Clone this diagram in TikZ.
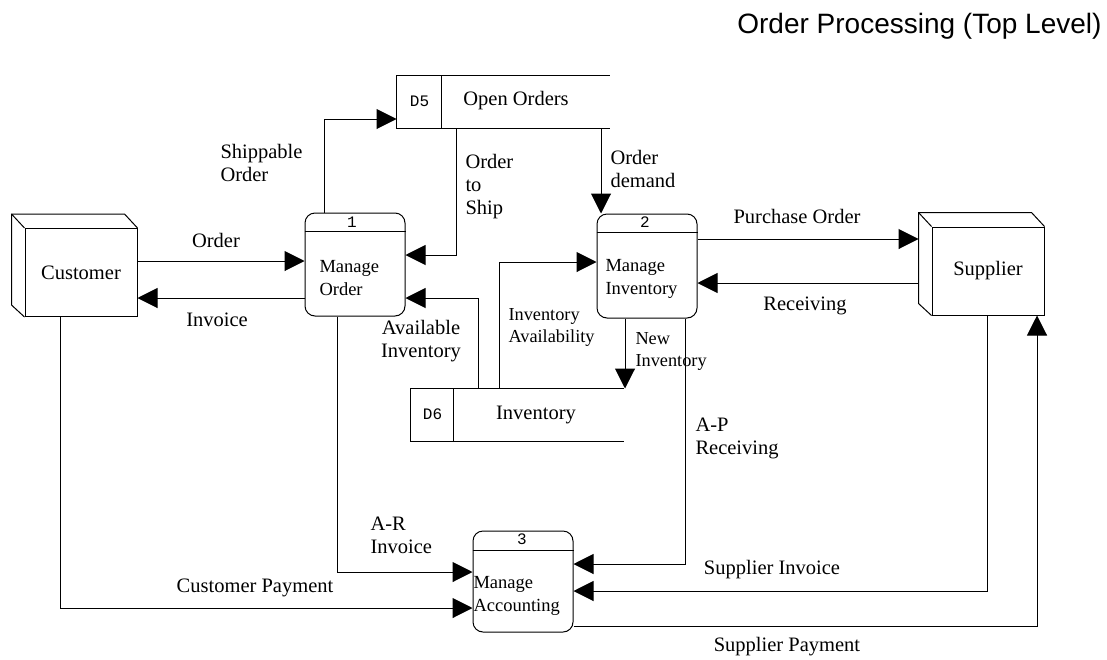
\documentclass[tikz,border=0pt]{standalone}
\usepackage{fontspec}
\setmainfont{Liberation Serif}
\setsansfont{Liberation Sans}
\setmonofont{Liberation Mono}
\usetikzlibrary{arrows.meta}
\begin{document}
\begin{tikzpicture}[x=1pt,y=-1pt,
  every path/.style={line width=1pt},
  lbl/.style={inner sep=0pt,align=left,font=\fontsize{20.5}{23}\selectfont},
  slbl/.style={inner sep=0pt,align=left,font=\fontsize{18.3}{22}\selectfont},
  plbl/.style={inner sep=0pt,align=left,font=\fontsize{18.5}{22.5}\selectfont},
  num/.style={inner sep=0pt,font=\ttfamily\fontsize{16}{18}\selectfont},
  flow/.style={draw,-{Triangle[length=20pt,width=20pt]}},
  proc/.style={draw,rounded corners=10pt,minimum width=100pt,inner sep=0pt},
  ent/.style={draw,minimum width=112pt,minimum height=88pt,inner sep=0pt,font=\fontsize{20.5}{23}\selectfont},
  store/.style={minimum width=212pt,minimum height=52pt,inner sep=0pt}]
\path[use as bounding box] (0,0) rectangle (1107,659);

% title
\node[anchor=base east,inner sep=0pt,font=\sffamily\fontsize{28}{32}\selectfont] (title) at (1102,33) {Order Processing (Top Level)};

% external entities
\node[ent] (cust) at (81,272.5) {Customer};
\draw (cust.south west) -- ++(-13,-12) -- ([xshift=-13pt,yshift=14pt]cust.north west) -- ([xshift=-13pt,yshift=14pt]cust.north east) -- (cust.north east);
\draw (cust.north west) -- ++(-13,-14);
\node[ent] (sup) at (988,271) {Supplier};
\draw (sup.south west) -- ++(-13,-12) -- ([xshift=-13pt,yshift=14pt]sup.north west) -- ([xshift=-13pt,yshift=14pt]sup.north east) -- (sup.north east);
\draw (sup.north west) -- ++(-13,-14);
\coordinate (supL) at ([xshift=-13pt]sup.west);

% processes
\node[proc,minimum height=103pt] (mo) at (355,264.5) {};
\draw ([yshift=-19pt]mo.north west) -- ([yshift=-19pt]mo.north east);
\node[num] (mon) at (352,222) {1};
\node[plbl,anchor=west] (mot) at (319,278) {Manage\\Order};

\node[proc,minimum height=104pt] (mi) at (647,266) {};
\draw ([yshift=-19pt]mi.north west) -- ([yshift=-19pt]mi.north east);
\node[num] (min) at (645,222) {2};
\node[plbl,anchor=west] (mit) at (605,279) {Manage\\Inventory};

\node[proc,minimum height=101pt] (ma) at (523,581.5) {};
\draw ([yshift=-20pt]ma.north west) -- ([yshift=-20pt]ma.north east);
\node[num] (man) at (522,539) {3};
\node[plbl,anchor=west] (mat) at (473,596) {Manage\\Accounting};

% data stores
\node[store] (d5) at (503,102) {};
\draw (d5.north east) -- (d5.north west) -- (d5.south west) -- (d5.south east);
\draw ([xshift=45pt]d5.north west) -- ([xshift=45pt]d5.south west);
\node[num] (d5n) at (419.5,101) {D5};
\node[lbl] (d5t) at (516,101) {Open Orders};

\node[store] (d6) at (517,415) {};
\draw (d6.north east) -- (d6.north west) -- (d6.south west) -- (d6.south east);
\draw ([xshift=43pt]d6.north west) -- ([xshift=43pt]d6.south west);
\node[num] (d6n) at (432.5,414) {D6};
\node[lbl] (d6t) at (536,415) {Inventory};

% flows
\draw[flow] (cust.east |- 0,261) -- (mo.west |- 0,261);
\node[lbl] (l1) at (216,240) {Order};
\draw[flow] (mo.west |- 0,298) -- (cust.east |- 0,298);
\node[lbl] (l2) at (217,320) {Invoice};

\draw[flow] (mo.north -| 324,0) |- (d5.west |- 0,119);
\node[lbl,anchor=west] (l3) at (220,162.5) {Shippable\\Order};

\draw[flow] (d5.south -| 456,0) |- (mo.east |- 0,255);
\node[lbl,anchor=west] (l4) at (465,187) {Order\\to\\Ship};

\draw[flow] (d5.south -| 601,0) -- (mi.north -| 601,0);
\node[lbl,anchor=west] (l5) at (610,169) {Order\\demand};

\draw[flow] (d6.north -| 478,0) |- (mo.east |- 0,298);
\node[lbl,align=center] (l6) at (421,341) {Available\\Inventory};

\draw[flow] (d6.north -| 499,0) |- (mi.west |- 0,262);
\node[slbl,anchor=west] (l7) at (508,327) {Inventory\\Availability};

\draw[flow] (mi.south -| 625,0) -- (d6.north -| 625,0);
\node[slbl,anchor=west] (l8) at (635,351) {New\\Inventory};

\draw[flow] (mi.east |- 0,239) -- (supL |- 0,239);
\node[lbl] (l9) at (797,216) {Purchase Order};
\draw[flow] (supL |- 0,283) -- (mi.east |- 0,283);
\node[lbl] (l10) at (805,306) {Receiving};

\draw[flow] (mi.south -| 685,0) |- (ma.east |- 0,564);
\node[lbl,anchor=west] (l11) at (695,438) {A-P\\Receiving};

\draw[flow] (sup.south -| 987,0) |- (ma.east |- 0,591);
\node[lbl] (l12) at (772,570) {Supplier Invoice};

\draw[flow] (ma.east |- 0,626) -| (sup.south -| 1037,0);
\node[lbl] (l13) at (787,647) {Supplier Payment};

\draw[flow] (mo.south -| 337,0) |- (ma.west |- 0,572);
\node[lbl,anchor=west] (l14) at (370,535.5) {A-R\\Invoice};

\draw[flow] (cust.south -| 60,0) |- (ma.west |- 0,608);
\node[lbl] (l15) at (255,588) {Customer Payment};
\end{tikzpicture}
\end{document}
